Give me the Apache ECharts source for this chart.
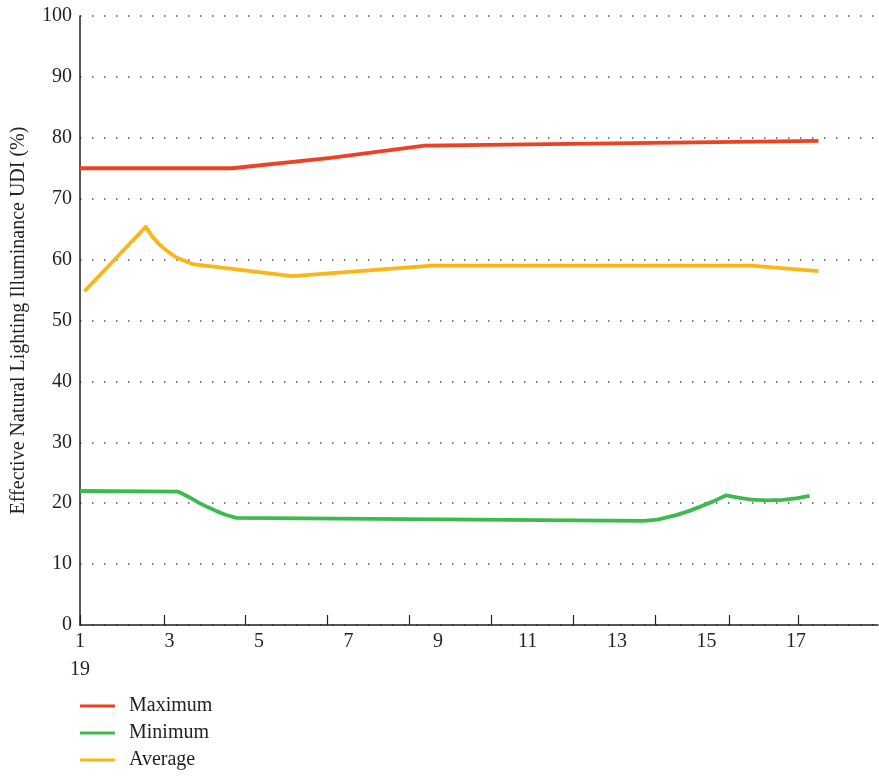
<!DOCTYPE html>
<html>
<head>
<meta charset="utf-8">
<script src="https://cdn.jsdelivr.net/npm/echarts@6/dist/echarts.min.js"></script>
<style>
html,body{margin:0;padding:0;background:#fff;}
#chart{width:879px;height:778px;}
</style>
</head>
<body>
<div id="chart"></div>
<script>
// Data (x position, UDI %)
var maximumData = [[1, 75.0], [4.4, 75.0], [6.6, 76.7], [8.7, 78.7], [17.5, 79.5]];
var minimumData = [[1, 22.0], [3.19, 21.9], [3.3, 21.5], [3.46, 20.9], [3.65, 20.1], [3.84, 19.4], [4.05, 18.7], [4.25, 18.1], [4.49, 17.6], [13.6, 17.1], [13.9, 17.3], [14.3, 18.0], [14.6, 18.7], [14.85, 19.4], [15.15, 20.3], [15.44, 21.3], [15.7, 20.9], [16.0, 20.6], [16.35, 20.45], [16.7, 20.55], [17.0, 20.8], [17.3, 21.2]];
var averageData = [[1.1, 54.8], [2.47, 65.4], [2.6, 63.9], [2.8, 62.3], [3.0, 61.1], [3.17, 60.3], [3.4, 59.6], [3.55, 59.2], [3.8, 59.0], [5.74, 57.3], [8.87, 59.0], [16.0, 59.0], [17.5, 58.1]];
var xLabelValues = [1, 3, 5, 7, 9, 11, 13, 15, 17];
var xTickValues = [1, 2.88, 4.69, 6.52, 8.35, 10.18, 12.02, 13.85, 15.50, 17.04];
var seriesNames = ['Maximum', 'Minimum', 'Average'];
var seriesColors = ['#ee4123', '#3dba4e', '#fdb515'];
var yAxisTitle = 'Effective Natural Lighting Illuminance UDI (%)';

var font = '"Liberation Serif", "DejaVu Serif", serif';
var fs = 20;
var chart = echarts.init(document.getElementById('chart'));
var allData = [maximumData, minimumData, averageData];
chart.setOption({
  animation: false,
  backgroundColor: '#ffffff',
  textStyle: { fontFamily: font },
  grid: { left: 80, right: 1, top: 16, bottom: 153, containLabel: false, outerBoundsMode: 'none' },
  legend: {
    orient: 'vertical',
    left: 80,
    top: 696,
    padding: 0,
    itemGap: 7,
    itemWidth: 35,
    itemHeight: 3,
    icon: 'rect',
    data: seriesNames,
    textStyle: { fontFamily: font, fontSize: fs, color: '#231f20', padding: [0, 0, 0, 9] }
  },
  xAxis: {
    type: 'value',
    min: 1,
    max: 18.83,
    interval: 2,
    axisLine: { show: true, lineStyle: { color: '#231f20', width: 1.5 } },
    axisTick: { show: true, inside: true, length: 10, customValues: xTickValues, lineStyle: { color: '#231f20', width: 1.2 } },
    axisLabel: {
      customValues: xLabelValues,
      showMinLabel: true,
      showMaxLabel: true,
      hideOverlap: false,
      margin: 3,
      fontFamily: font,
      fontSize: fs,
      color: '#231f20',
      lineHeight: 28,
      formatter: function (v) { return v === 1 ? '1\n19' : String(v); },
      verticalAlign: 'top'
    },
    splitLine: { show: false }
  },
  yAxis: {
    type: 'value',
    min: 0,
    max: 100,
    interval: 10,
    name: yAxisTitle,
    nameLocation: 'middle',
    nameGap: 51,
    nameTextStyle: { fontFamily: font, fontSize: fs, color: '#231f20' },
    axisLine: { show: true, lineStyle: { color: '#231f20', width: 1.5 } },
    axisTick: { show: false },
    axisLabel: { margin: 8, fontFamily: font, fontSize: fs, color: '#231f20' },
    splitLine: { show: true, lineStyle: { color: '#555555', width: 1.5, type: [1.5, 10.5] } }
  },
  series: seriesNames.map(function (n, i) {
    return {
      name: n,
      type: 'line',
      data: allData[i],
      showSymbol: false,
      smooth: false,
      lineStyle: { width: 3.8, color: seriesColors[i], join: 'round' },
      itemStyle: { color: seriesColors[i] }
    };
  })
});
</script>
</body>
</html>
